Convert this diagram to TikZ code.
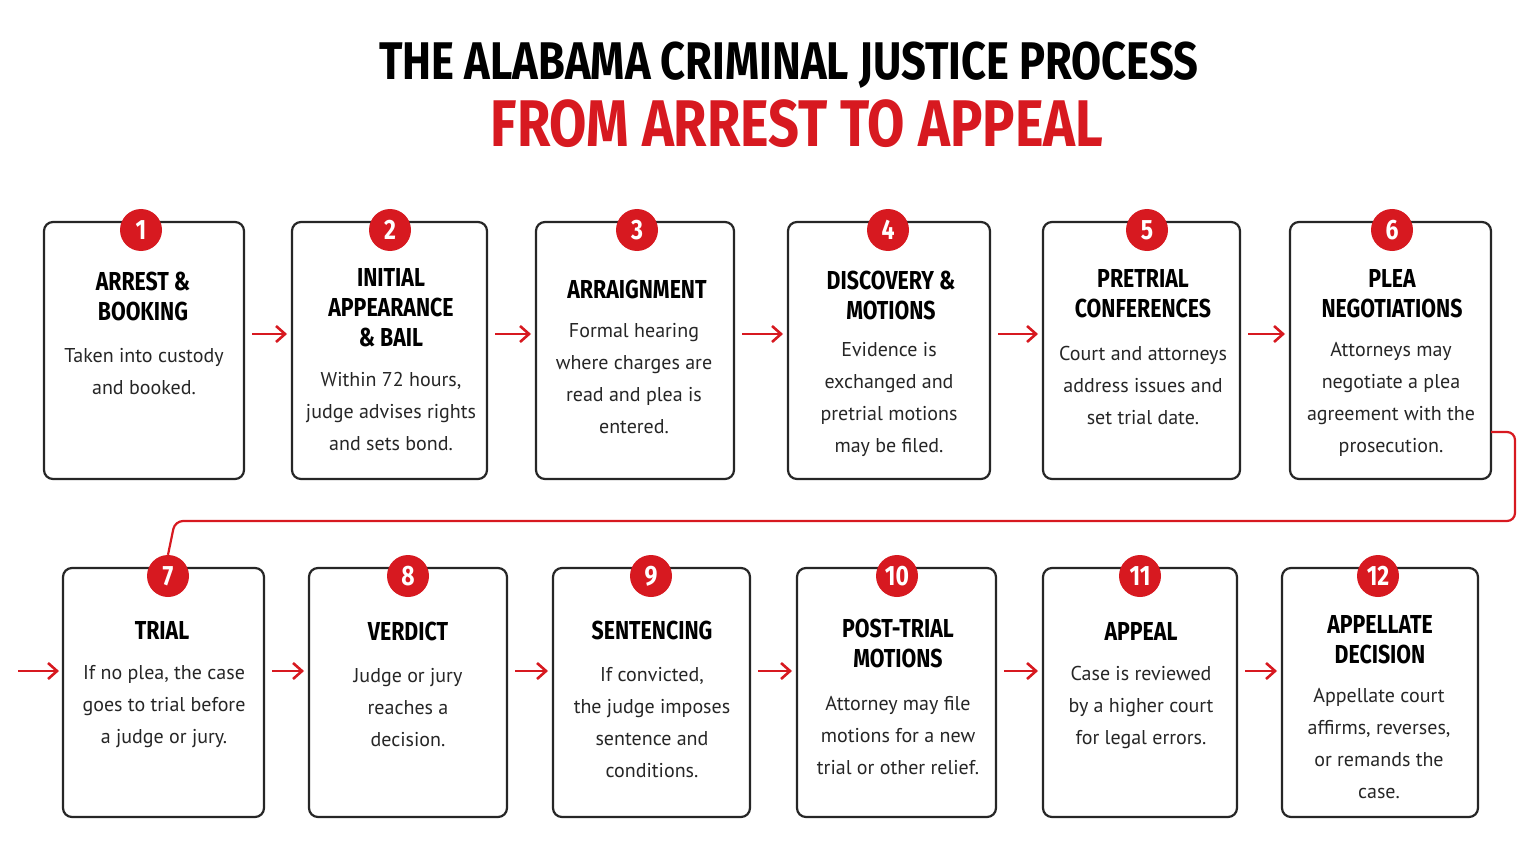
\documentclass[tikz,border=0pt]{standalone}
\usepackage{fontspec}
\setmainfont{PT Sans}
\newfontfamily\headf{Fira Sans}[FakeStretch=0.82]
\usetikzlibrary{arrows.meta}
\definecolor{rd}{HTML}{D71920}
\begin{document}
\begin{tikzpicture}[x=1pt,y=-1pt,
 box/.style={draw=black!85,line width=2.2pt,rounded corners=9pt,fill=white},
 badge/.style={circle,fill=rd,minimum size=42pt,inner sep=0pt,text=white,font=\headf\bfseries\fontsize{28}{28}\selectfont},
 hd/.style={align=center,font=\headf\bfseries\fontsize{26}{30}\selectfont,inner sep=0pt},
 bd/.style={align=center,font=\fontsize{20}{32}\selectfont,text=black!85,inner sep=0pt},
 arr/.style={draw=rd,line width=2.6pt,-{Straight Barb[length=9pt,width=16pt]}},
 lnk/.style={draw=rd,line width=2.2pt,rounded corners=8pt}]
\useasboundingbox (0,0) rectangle (1536,861);
\node[font=\headf\bfseries\fontsize{53}{53}\selectfont] (t1) at (789,65) {THE ALABAMA CRIMINAL JUSTICE PROCESS};
\node[font=\headf\bfseries\fontsize{66}{66}\selectfont,text=rd] (t2) at (797,124) {FROM ARREST TO APPEAL};
\foreach \n/\a/\b in {1/44/244,2/292/487,3/536/734,4/788/990,5/1043/1240,6/1290/1491}
 {\draw[box] (\a,222) rectangle (\b,479); \coordinate (L\n) at (\a,334); \coordinate (R\n) at (\b,334);}
\foreach \n/\a/\b in {7/63/264,8/309/507,9/553/750,10/797/996,11/1043/1237,12/1282/1478}
 {\draw[box] (\a,568) rectangle (\b,817); \coordinate (L\n) at (\a,671); \coordinate (R\n) at (\b,671);}
\foreach \n/\x in {1/141,2/390,3/637,4/888,5/1147,6/1392} \node[badge] (b\n) at (\x,230) {\n};
\foreach \n/\x in {7/168,8/408,9/651,10/897,11/1140,12/1378} \node[badge] (b\n) at (\x,576) {\n};
\foreach \i/\j in {1/2,2/3,3/4,4/5,5/6,7/8,8/9,9/10,10/11,11/12}
 \draw[arr] ([xshift=8pt]R\i) -- ([xshift=-5pt]L\j);
\coordinate (s6) at (1491,432);
\draw[lnk] (s6) -- (1515,432) -- (1515,521) -- (175,521) -- (b7.north);
\coordinate (f7) at (18,671);
\draw[arr] (f7) -- ([xshift=-4pt]L7);
\node[hd] (h1) at (143,296) {ARREST \&\\BOOKING};
\node[bd] (d1) at (144,372) {Taken into custody\\and booked.};
\node[hd] (h2) at (391,308) {INITIAL\\APPEARANCE\\\& BAIL};
\node[bd] (d2) at (391,411) {Within 72 hours,\\judge advises rights\\and sets bond.};
\node[hd] (h3) at (637,289) {ARRAIGNMENT};
\node[bd] (d3) at (634,379) {Formal hearing\\where charges are\\read and plea is\\entered.};
\node[hd] (h4) at (891,295) {DISCOVERY \&\\MOTIONS};
\node[bd] (d4) at (889,399) {Evidence is\\exchanged and\\pretrial motions\\may be filed.};
\node[hd] (h5) at (1143,294) {PRETRIAL\\CONFERENCES};
\node[bd] (d5) at (1143,385) {Court and attorneys\\address issues and\\set trial date.};
\node[hd] (h6) at (1392,294) {PLEA\\NEGOTIATIONS};
\node[bd] (d6) at (1391,399) {Attorneys may\\negotiate a plea\\agreement with the\\prosecution.};
\node[hd] (h7) at (162,630) {TRIAL};
\node[bd] (d7) at (164,707) {If no plea, the case\\goes to trial before\\a judge or jury.};
\node[hd] (h8) at (408,631) {VERDICT};
\node[bd] (d8) at (408,708) {Judge or jury\\reaches a\\decision.};
\node[hd] (h9) at (652,630) {SENTENCING};
\node[bd] (d9) at (652,723) {If convicted,\\the judge imposes\\sentence and\\conditions.};
\node[hd] (h10) at (898,643) {POST-TRIAL\\MOTIONS};
\node[bd] (d10) at (898,736) {Attorney may file\\motions for a new\\trial or other relief.};
\node[hd] (h11) at (1141,631) {APPEAL};
\node[bd] (d11) at (1141,707) {Case is reviewed\\by a higher court\\for legal errors.};
\node[hd] (h12) at (1380,640) {APPELLATE\\DECISION};
\node[bd] (d12) at (1379,744) {Appellate court\\affirms, reverses,\\or remands the\\case.};
\end{tikzpicture}
\end{document}
